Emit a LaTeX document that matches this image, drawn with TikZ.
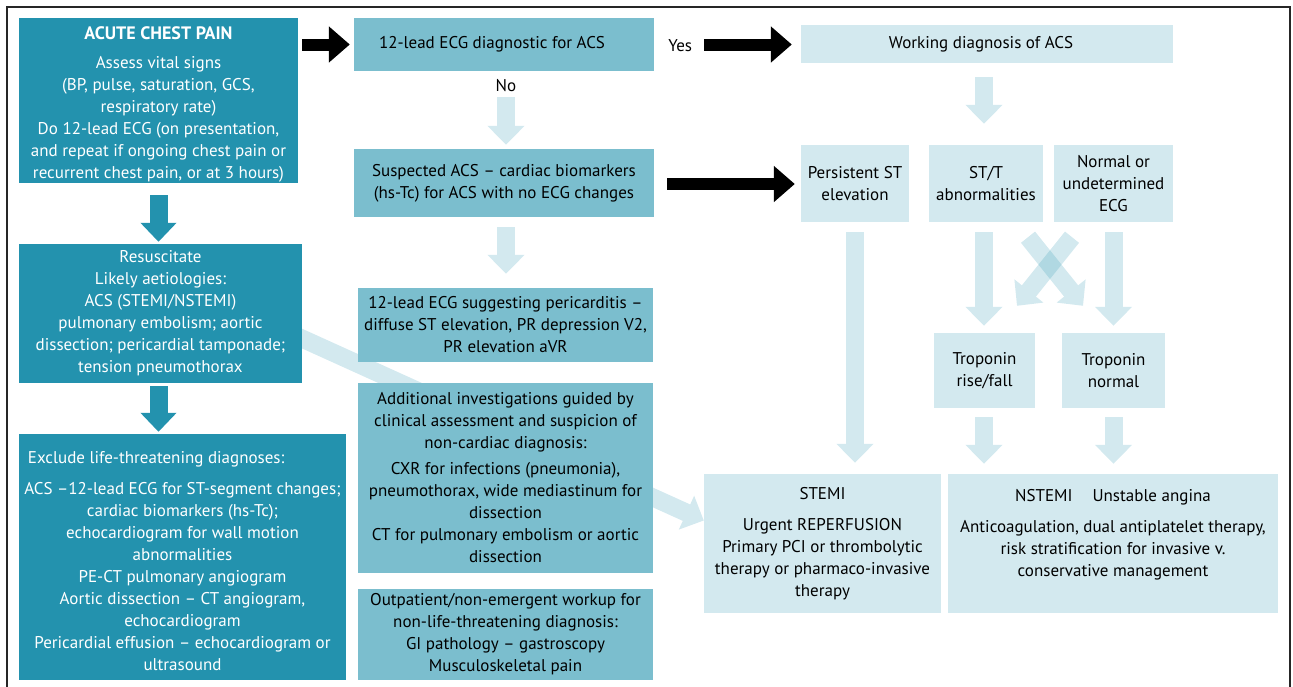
\documentclass[tikz,border=0pt]{standalone}
\usepackage{fontspec}
\setmainfont{PT Sans}
\usetikzlibrary{arrows.meta,calc,backgrounds}
\definecolor{tealA}{RGB}{35,146,174}
\colorlet{medteal}{tealA!60}
\colorlet{lightteal}{tealA!20}
\tikzset{
  box/.style={inner sep=0pt, align=center, font=\fontsize{17}{22}\selectfont},
  darkbox/.style={box, fill=tealA, text=white},
  medbox/.style={box, fill=medteal, text=black},
  lightbox/.style={box, fill=lightteal, text=black},
  lbl/.style={inner sep=0pt, font=\fontsize{17}{22}\selectfont, text=black},
  blackarrow/.style={draw=black, line width=12pt, -{Triangle[width=35pt,length=21pt]}},
  lightarrow/.style={draw=lightteal, line width=18pt, -{Triangle[width=36pt,length=19pt]}},
  darkarrow/.style={draw=tealA, line width=18pt, -{Triangle[width=35pt,length=19pt]}},
  crossarrow/.style={draw=tealA, line width=18pt, -{Triangle[width=36pt,length=19pt]}},
}
\begin{document}
\begin{tikzpicture}[x=1pt,y=-1pt]
\useasboundingbox (0,0) rectangle (1293,686);
% outer frame
\draw[line width=1.3pt, black!85] (7,690) -- (7,7) -- (1290,7) -- (1290,690);

% nodes
\node[darkbox, minimum width=279pt, minimum height=165pt] (acute) at (158.5,100.5)
 {\rule{0pt}{21pt}{\fontsize{18}{22}\selectfont\bfseries ACUTE CHEST PAIN}\\[7pt]Assess vital signs\\(BP, pulse, saturation, GCS,\\respiratory rate)\\Do 12-lead ECG (on presentation,\\and repeat if ongoing chest pain or\\recurrent chest pain, or at 3 hours)};
\node[darkbox, minimum width=283pt, minimum height=139pt] (resus) at (160.5,313.5)
 {Resuscitate\\Likely aetiologies:\\ACS (STEMI/NSTEMI)\\pulmonary embolism; aortic\\dissection; pericardial tamponade;\\tension pneumothorax};
\node[medbox, minimum width=300pt, minimum height=53pt] (ecg) at (504,44.5)
 {12-lead ECG diagnostic for ACS\hspace*{24pt}};
\node[medbox, minimum width=300pt, minimum height=68pt] (susp) at (504,183)
 {Suspected ACS – cardiac biomarkers\\(hs-Tc) for ACS with no ECG changes};
\node[lightbox, minimum width=372pt, minimum height=38pt] (wd) at (987,44)
 {Working diagnosis of ACS\hspace*{12pt}};
\node[lightbox, minimum width=108pt, minimum height=77pt] (pst) at (855,183.5)
 {Persistent ST\\elevation};
\node[lightbox, minimum width=114pt, minimum height=77pt] (stt) at (986,183.5)
 {ST/T\\abnormalities};
\node[lightbox, minimum width=119pt, minimum height=77pt] (norm) at (1113.5,183.5)
 {Normal or\\undetermined\\ECG};
\node[lightbox, minimum width=101pt, minimum height=75pt] (trf) at (984.5,370.5)
 {Troponin\\rise/fall};
\node[lightbox, minimum width=103pt, minimum height=75pt] (trn) at (1113.5,370.5)
 {Troponin\\normal};
\node[darkbox, minimum width=327pt, minimum height=246pt] (excl) at (182.5,557)
 {\rule{0pt}{20pt}\makebox[309pt][l]{Exclude life-threatening diagnoses:}\\[9pt]ACS –12-lead ECG for ST-segment changes;\\cardiac biomarkers (hs-Tc);\\echocardiogram for wall motion\\abnormalities\\PE-CT pulmonary angiogram\\Aortic dissection – CT angiogram,\\echocardiogram\\Pericardial effusion – echocardiogram or\\ultrasound};
\node[medbox, minimum width=295pt, minimum height=74pt] (peri) at (505.5,325)
 {12-lead ECG suggesting pericarditis –\\diffuse ST elevation, PR depression V2,\\PR elevation aVR};
\node[medbox, minimum width=295pt, minimum height=190pt] (addl) at (505.5,478)
 {Additional investigations guided by\\clinical assessment and suspicion of\\non-cardiac diagnosis:\\[4pt]CXR for infections (pneumonia),\\pneumothorax, wide mediastinum for\\dissection\\CT for pulmonary embolism or aortic\\dissection};
\node[medbox, minimum width=295pt, minimum height=91pt] (outp) at (505.5,634.5)
 {Outpatient/non-emergent workup for\\non-life-threatening diagnosis:\\GI pathology – gastroscopy\\Musculoskeletal pain};
\node[lightbox, minimum width=237pt, minimum height=139pt] (stemi) at (822.5,543.5)
 {STEMI\\[9pt]Urgent REPERFUSION\\Primary PCI or thrombolytic\\therapy or pharmaco-invasive\\therapy};
\node[lightbox, minimum width=330pt, minimum height=139pt] (nstemi) at (1113,543.5)
 {NSTEMI\hspace{20pt}Unstable angina\\[9pt]Anticoagulation, dual antiplatelet therapy,\\risk stratification for invasive v.\\conservative management\\~};

% long diagonal arrow (behind boxes)
\coordinate (dstart) at ($(resus.center)+(89.5,1.5)$);
\coordinate (dend) at ($(stemi.west)+(0,-23)$);
\begin{pgfonlayer}{background}
\draw[lightarrow] (dstart) -- (dend);
\end{pgfonlayer}

% labels
\node[lbl] (yes) at ($(ecg.east)+(26,1.5)$) {Yes};
\node[lbl] (no) at ($(ecg.south)+(2,14)$) {No};

% connectors
\draw[darkarrow] ($(acute.south)+(0,12)$) -- ($(acute.south |- resus.north)+(0,-2)$);
\draw[darkarrow] ($(acute.south |- resus.south)+(0,3)$) -- ($(acute.south |- excl.north)+(0,-2)$);
\draw[blackarrow] ($(acute.east |- ecg.west)+(4,0)$) -- ($(ecg.west)+(-4,0)$);
\draw[blackarrow] ($(ecg.east)+(50,0)$) -- ($(ecg.east -| wd.west)+(-9,0)$);
\draw[lightarrow] ($(ecg.south)+(2,26)$) -- ($(susp.north)+(2,-4)$);
\draw[blackarrow] ($(susp.east)+(13,1)$) -- ($(susp.east -| pst.west)+(-6,1)$);
\draw[lightarrow] ($(wd.south -| stt.north)+(-2,14)$) -- ($(stt.north)+(-2,-21)$);
\draw[lightarrow] ($(susp.south)+(2,10)$) -- ($(peri.north)+(0.5,-14)$);
\draw[lightarrow] ($(pst.south)+(0,10)$) -- ($(pst.south |- stemi.north)+(0,-11)$);
\draw[lightarrow] ($(stt.south)+(-2,10)$) -- ($(stt.south |- trf.north)+(-2,-7)$);
\draw[lightarrow] ($(norm.south)+(0,10)$) -- ($(trn.north)+(0,-7)$);
\begin{scope}[transparency group, opacity=0.2]
\draw[crossarrow] ($(stt.south)+(42,15)$) -- ($(trn.north)+(-30.5,-27)$);
\end{scope}
\begin{scope}[transparency group, opacity=0.2]
\draw[crossarrow] ($(norm.south)+(-41.5,15)$) -- ($(trf.north)+(32.5,-27)$);
\end{scope}
\draw[lightarrow] ($(trf.south)+(-0.5,9)$) -- ($(trf.south |- nstemi.north)+(-0.5,-10)$);
\draw[lightarrow] ($(trn.south)+(0,9)$) -- ($(trn.south |- nstemi.north)+(0,-10)$);
\end{tikzpicture}
\end{document}
